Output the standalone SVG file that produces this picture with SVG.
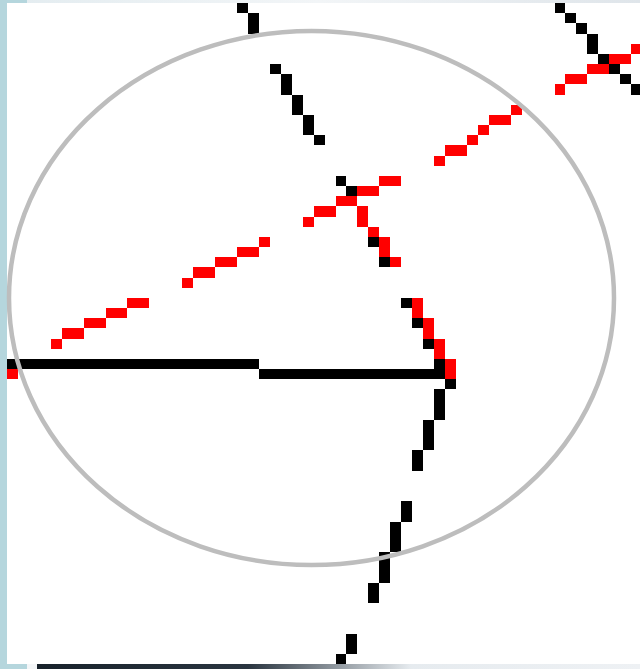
<svg xmlns="http://www.w3.org/2000/svg" width="640" height="669" viewBox="0 0 640 669">
  <defs>
    <style>
      .k { fill: #000000; }
      .r { fill: #ff0000; }
      .ring { fill: none; stroke: #bdbdbd; stroke-width: 4.5; }
    </style>
    <linearGradient id="topg" x1="0" y1="0" x2="1" y2="0">
      <stop offset="0" stop-color="#e3ecf0"/>
      <stop offset="0.5" stop-color="#f2f5f7"/>
      <stop offset="1" stop-color="#dfe5ea"/>
    </linearGradient>
    <linearGradient id="botg" x1="0" y1="0" x2="1" y2="0">
      <stop offset="0" stop-color="#18222b"/>
      <stop offset="0.35" stop-color="#2a3540"/>
      <stop offset="0.62" stop-color="#e6ebef"/>
      <stop offset="1" stop-color="#eef1f4"/>
    </linearGradient>
  </defs>
  <rect x="0" y="0" width="640" height="669" fill="#ffffff"/>
  <g id="frame">
    <rect x="0" y="0" width="640" height="3" fill="url(#topg)"/>
    <rect x="37" y="664" width="603" height="5" fill="url(#botg)"/>
    <rect x="27" y="664" width="10" height="5" fill="#f4f6f8"/>
    <rect x="0" y="0" width="7" height="669" fill="#b5d6dd"/>
    <rect x="0" y="0" width="27" height="3" fill="#b5d6dd"/>
    <rect x="0" y="664" width="27" height="5" fill="#b5d6dd"/>
  </g>
  <g id="pixels" transform="translate(7,3) scale(10.95,10.17)" shape-rendering="crispEdges">
    <g id="top-left-chain">
      <rect class="k" x="21" y="0" width="1" height="1"/>
      <rect class="k" x="22" y="1" width="1" height="2"/>
      <rect class="k" x="24" y="6" width="1" height="1"/>
      <rect class="k" x="25" y="7" width="1" height="2"/>
      <rect class="k" x="26" y="9" width="1" height="2"/>
      <rect class="k" x="27" y="11" width="1" height="2"/>
      <rect class="k" x="28" y="13" width="1" height="1"/>
    </g>
    <g id="top-right-cross">
      <rect class="k" x="50" y="0" width="1" height="1"/>
      <rect class="k" x="51" y="1" width="1" height="1"/>
      <rect class="k" x="52" y="2" width="1" height="1"/>
      <rect class="k" x="53" y="3" width="1" height="2"/>
      <rect class="k" x="54" y="5" width="1" height="1"/>
      <rect class="k" x="55" y="6" width="1" height="1"/>
      <rect class="k" x="56" y="7" width="1" height="1"/>
      <rect class="k" x="57" y="8" width="1" height="1"/>
      <rect class="r" x="57" y="4" width="1" height="1"/>
      <rect class="r" x="55" y="5" width="2" height="1"/>
      <rect class="r" x="53" y="6" width="2" height="1"/>
      <rect class="r" x="51" y="7" width="2" height="1"/>
      <rect class="r" x="50" y="8" width="1" height="1"/>
    </g>
    <g id="upper-red-chain">
      <rect class="r" x="46" y="10" width="1" height="1"/>
      <rect class="r" x="44" y="11" width="2" height="1"/>
      <rect class="r" x="43" y="12" width="1" height="1"/>
      <rect class="r" x="42" y="13" width="1" height="1"/>
      <rect class="r" x="40" y="14" width="2" height="1"/>
      <rect class="r" x="39" y="15" width="1" height="1"/>
    </g>
    <g id="middle-cluster">
      <rect class="k" x="30" y="17" width="1" height="1"/>
      <rect class="r" x="34" y="17" width="2" height="1"/>
      <rect class="k" x="31" y="18" width="1" height="1"/>
      <rect class="r" x="32" y="18" width="2" height="1"/>
      <rect class="r" x="30" y="19" width="2" height="1"/>
      <rect class="r" x="28" y="20" width="2" height="1"/>
      <rect class="r" x="32" y="20" width="1" height="2"/>
      <rect class="r" x="27" y="21" width="1" height="1"/>
      <rect class="r" x="33" y="22" width="1" height="1"/>
      <rect class="k" x="33" y="23" width="1" height="1"/>
      <rect class="r" x="34" y="23" width="1" height="2"/>
      <rect class="k" x="34" y="25" width="1" height="1"/>
      <rect class="r" x="35" y="25" width="1" height="1"/>
    </g>
    <g id="left-red-chain">
      <rect class="r" x="23" y="23" width="1" height="1"/>
      <rect class="r" x="21" y="24" width="2" height="1"/>
      <rect class="r" x="19" y="25" width="2" height="1"/>
      <rect class="r" x="17" y="26" width="2" height="1"/>
      <rect class="r" x="16" y="27" width="1" height="1"/>
      <rect class="r" x="11" y="29" width="2" height="1"/>
      <rect class="r" x="9" y="30" width="2" height="1"/>
      <rect class="r" x="7" y="31" width="2" height="1"/>
      <rect class="r" x="5" y="32" width="2" height="1"/>
      <rect class="r" x="4" y="33" width="1" height="1"/>
    </g>
    <g id="horizontal-bar">
      <rect class="k" x="0" y="35" width="23" height="1"/>
      <rect class="k" x="23" y="36" width="17" height="1"/>
      <rect class="r" x="0" y="36" width="1" height="1"/>
    </g>
    <g id="right-stair">
      <rect class="k" x="36" y="29" width="1" height="1"/>
      <rect class="r" x="37" y="29" width="1" height="2"/>
      <rect class="k" x="37" y="31" width="1" height="1"/>
      <rect class="r" x="38" y="31" width="1" height="2"/>
      <rect class="k" x="38" y="33" width="1" height="1"/>
      <rect class="r" x="39" y="33" width="1" height="2"/>
      <rect class="k" x="39" y="35" width="1" height="1"/>
      <rect class="r" x="40" y="35" width="1" height="2"/>
      <rect class="k" x="40" y="37" width="1" height="1"/>
    </g>
    <g id="lower-chain">
      <rect class="k" x="39" y="38" width="1" height="3"/>
      <rect class="k" x="38" y="41" width="1" height="3"/>
      <rect class="k" x="37" y="44" width="1" height="2"/>
      <rect class="k" x="36" y="49" width="1" height="2"/>
      <rect class="k" x="35" y="51" width="1" height="3"/>
      <rect class="k" x="34" y="54" width="1" height="3"/>
      <rect class="k" x="33" y="57" width="1" height="2"/>
      <rect class="k" x="31" y="62" width="1" height="2"/>
      <rect class="k" x="30" y="64" width="1" height="1"/>
    </g>
  </g>
  <g id="ring">
    <ellipse class="ring" cx="311.5" cy="298" rx="302.5" ry="267"/>
  </g>
</svg>
